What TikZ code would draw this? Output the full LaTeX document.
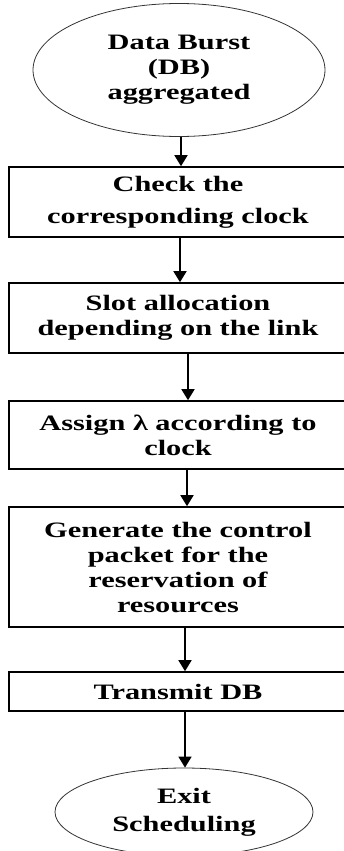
\documentclass[tikz,border=0pt]{standalone}
\usepackage{fontspec}
\newfontfamily\flowfont{Liberation Serif}[FakeStretch=1.38]
\usetikzlibrary{shapes.geometric,arrows.meta}

\begin{document}
\begin{tikzpicture}[x=1pt,y=-1pt,
    stepbox/.style={draw,line width=1.6pt,minimum width=338pt,align=center,inner sep=0pt},
    term/.style={draw,ellipse,gray!40!black,text=black,line width=0.8pt,align=center,inner sep=0pt},
    arr/.style={-{Triangle[length=11pt,width=13pt]},line width=1.7pt},
    font=\flowfont\bfseries\fontsize{22}{25}\selectfont]
    \useasboundingbox (0,0) rectangle (344,851);

    \node[term,minimum width=292pt,minimum height=133pt] (db) at (179,70) {Data Burst\\(DB)\\aggregated};
    \node[stepbox,minimum height=70pt] (chk) at (178,202) {Check the\\[7pt]corresponding clock};
    \node[stepbox,minimum height=70pt] (slot) at (178,318) {Slot allocation\\depending on the link};
    \node[stepbox,minimum height=68pt] (asg) at (178,435) {Assign λ according to\\clock};
    \node[stepbox,minimum height=120pt] (gen) at (178,567) {Generate the control\\packet for the\\reservation of\\resources};
    \node[stepbox,minimum height=39pt] (tx) at (178,691.5) {Transmit DB};
    \node[term,minimum width=258pt,minimum height=88pt] (exit) at (184,812) {Exit\\[3pt]Scheduling};

    \draw[arr] ([xshift=2pt]db.south) -- ([xshift=3pt]chk.north);
    \draw[arr] ([xshift=2pt]chk.south) -- ([xshift=2pt]slot.north);
    \draw[arr] ([xshift=10pt]slot.south) -- ([xshift=10pt]asg.north);
    \draw[arr] ([xshift=9pt]asg.south) -- ([xshift=9pt]gen.north);
    \draw[arr] ([xshift=7pt]gen.south) -- ([xshift=7pt]tx.north);
    \draw[arr] ([xshift=7pt]tx.south) -- ([xshift=1pt]exit.north);
\end{tikzpicture}
\end{document}
